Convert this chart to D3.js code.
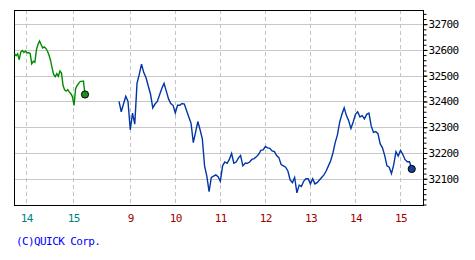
<!DOCTYPE html>
<html>
<head>
<meta charset="utf-8">
<script src="https://cdn.jsdelivr.net/npm/d3@7"></script>
<style>
  body { margin: 0; background: #fff; }
  svg { display: block; }
  text { font-family: "DejaVu Sans Mono", monospace; font-size: 11px; letter-spacing: -0.6px; }
</style>
</head>
<body>
<div id="chart"></div>
<script>
// previous session, one value every 2 minutes from 13:45 to 15:15
const prevStart = '13:45';
const prevStep = 2;
const prevValues = [
  32585, 32578, 32585, 32562, 32592, 32598, 32590, 32596, 32588, 32590,
  32586, 32546, 32556, 32552, 32600, 32622, 32635, 32620, 32608, 32612,
  32606, 32596, 32580, 32560, 32530, 32505, 32496, 32508, 32498, 32518,
  32510, 32462, 32445, 32440, 32446, 32436, 32430, 32418, 32385, 32450,
  32462, 32470, 32478, 32478, 32479, 32427
];

// today, one value every 3 minutes from 8:45 to 15:15
const todayStart = '08:45';
const todayStep = 3;
const todayValues = [
  32400, 32360, 32390, 32420, 32400, 32290, 32355, 32312, 32470, 32505,
  32545, 32512, 32492, 32460, 32428, 32375, 32390, 32400, 32425, 32450,
  32470, 32440, 32410, 32392, 32385, 32355, 32385, 32385, 32392, 32390,
  32365, 32340, 32315, 32240, 32280, 32322, 32290, 32255, 32150, 32110,
  32050, 32105, 32110, 32115, 32108, 32090, 32150, 32165, 32160, 32175,
  32198, 32160, 32165, 32180, 32190, 32150, 32160, 32160, 32165, 32175,
  32178, 32185, 32195, 32210, 32212, 32225, 32220, 32218, 32208, 32205,
  32190, 32182, 32155, 32150, 32145, 32130, 32095, 32085, 32105, 32045,
  32075, 32070, 32090, 32100, 32100, 32080, 32100, 32080, 32085, 32095,
  32105, 32115, 32130, 32150, 32170, 32200, 32240, 32270, 32320, 32350,
  32375, 32345, 32325, 32295, 32320, 32350, 32360, 32340, 32345, 32332,
  32350, 32355, 32305, 32280, 32283, 32275, 32235, 32220, 32190, 32150,
  32145, 32120, 32155, 32205, 32188, 32210, 32195, 32175, 32166, 32166,
  32138
];

const prevHours = [14, 15];
const todayHours = [9, 10, 11, 12, 13, 14, 15];
const priceTicks = [32100, 32200, 32300, 32400, 32500, 32600, 32700];

const width = 475;
const height = 260;
const frame = { left: 14, top: 10, right: 423, bottom: 205 };

const toMinutes = hhmm => {
  const [h, m] = hhmm.split(':').map(Number);
  return h * 60 + m;
};

// previous day is shifted back one day so both sessions sit on one axis
const series = (start, step, values, dayOffset) =>
  values.map((v, i) => ({ t: toMinutes(start) + i * step - dayOffset, v }));

const prevData = series(prevStart, prevStep, prevValues, 1440);
const todayData = series(todayStart, todayStep, todayValues, 0);

// two sessions with a gap between them
const x = d3.scaleLinear()
  .domain([-615, -525, 525, 930])
  .range([14.5, 85, 119, 423]);
const y = d3.scaleLinear()
  .domain([32000, 32755])
  .range([204.5, 10]);

const svg = d3.select('#chart')
  .append('svg')
  .attr('width', width)
  .attr('height', height);

// horizontal grid
svg.append('g')
  .selectAll('line')
  .data(priceTicks)
  .join('line')
  .attr('x1', frame.left)
  .attr('x2', frame.right)
  .attr('y1', d => Math.round(y(d)) + 0.5)
  .attr('y2', d => Math.round(y(d)) + 0.5)
  .attr('stroke', '#c8c8c8');

// vertical dashed grid
const hourTicks = prevHours.map(h => ({ h, t: h * 60 - 1440, prev: true }))
  .concat(todayHours.map(h => ({ h, t: h * 60, prev: false })));

svg.append('g')
  .selectAll('line')
  .data(hourTicks)
  .join('line')
  .attr('x1', d => Math.round(x(d.t)) + 0.5)
  .attr('x2', d => Math.round(x(d.t)) + 0.5)
  .attr('y1', frame.top)
  .attr('y2', frame.bottom)
  .attr('stroke', '#c4c4c4')
  .attr('stroke-dasharray', '4,3');

// frame
svg.append('rect')
  .attr('x', frame.left + 0.5)
  .attr('y', frame.top + 0.5)
  .attr('width', frame.right - frame.left)
  .attr('height', frame.bottom - frame.top)
  .attr('fill', 'none')
  .attr('stroke', '#000');

const line = d3.line()
  .x(d => x(d.t))
  .y(d => y(d.v));

const drawSession = (data, color, dotColor) => {
  svg.append('path')
    .datum(data)
    .attr('d', line)
    .attr('fill', 'none')
    .attr('stroke', color)
    .attr('stroke-width', 1.4)
    .attr('stroke-linejoin', 'miter');

  const last = data[data.length - 1];
  svg.append('circle')
    .attr('cx', x(last.t))
    .attr('cy', y(last.v))
    .attr('r', 3.6)
    .attr('fill', dotColor)
    .attr('stroke', '#000')
    .attr('stroke-width', 1);
};

drawSession(prevData, '#008c00', '#1e8c1e');
drawSession(todayData, '#0036a6', '#17409a');

// right axis: minor ticks every 20, labelled majors every 100
svg.append('g')
  .attr('transform', `translate(${frame.right + 0.5},0)`)
  .call(d3.axisRight(y).ticks(40).tickSize(3).tickFormat(''))
  .call(g => g.select('.domain').remove());

svg.append('g')
  .attr('transform', `translate(${frame.right + 0.5},0)`)
  .call(d3.axisRight(y).tickValues(priceTicks).tickSize(4).tickPadding(1).tickFormat(d3.format('d')))
  .call(g => g.select('.domain').remove())
  .call(g => g.selectAll('text').attr('fill', '#000').style('font-family', null).style('font-size', null));

// hour labels
svg.append('g')
  .selectAll('text')
  .data(hourTicks)
  .join('text')
  .attr('x', d => x(d.t) + 0.5)
  .attr('y', 222)
  .attr('text-anchor', 'middle')
  .attr('fill', d => d.prev ? '#008080' : '#a00000')
  .text(d => d.h);

svg.append('text')
  .attr('x', 16)
  .attr('y', 245)
  .attr('fill', '#0000ff')
  .text('(C)QUICK Corp.');
</script>
</body>
</html>
